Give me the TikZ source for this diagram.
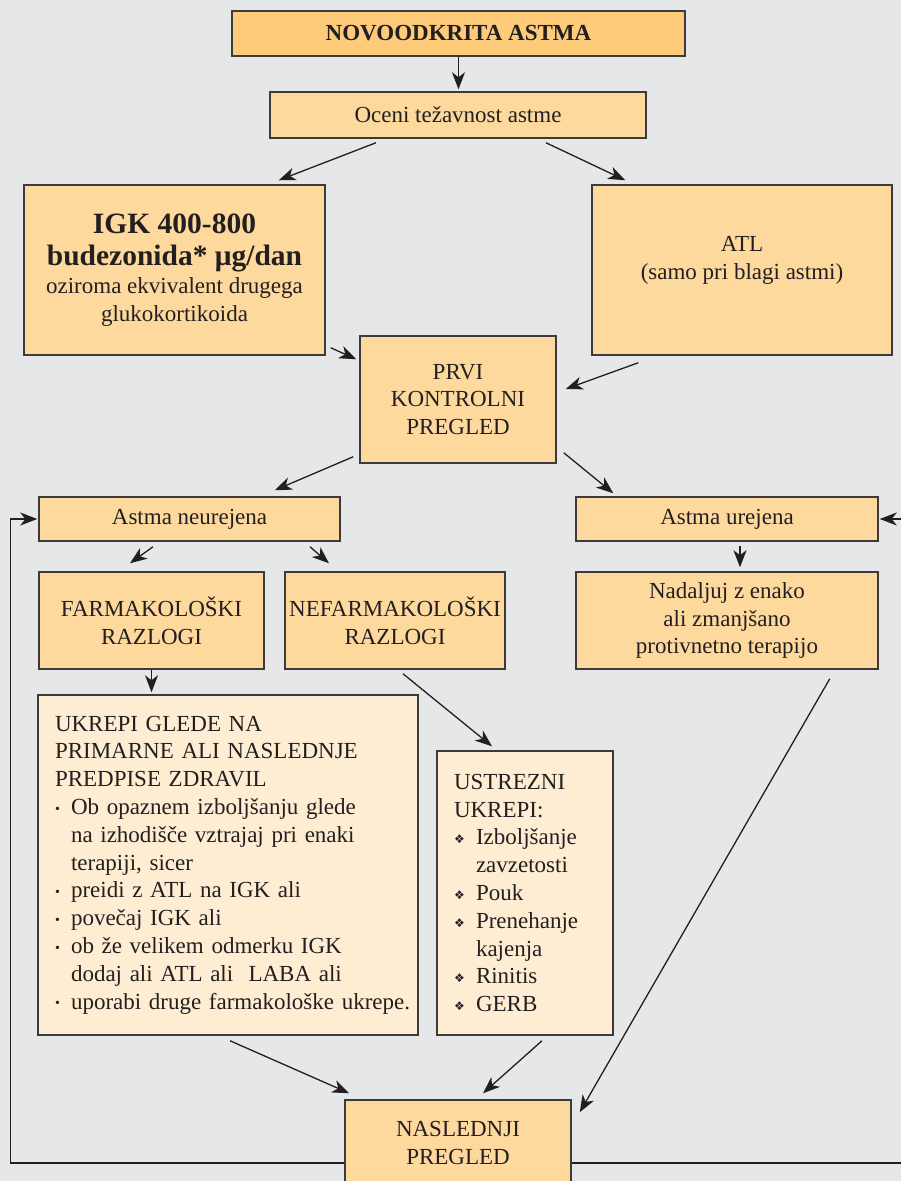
\documentclass[tikz,border=0pt]{standalone}
\usepackage{fontspec}
\setmainfont{Liberation Serif}
\newfontfamily\dejavu{DejaVu Sans}
\usetikzlibrary{arrows.meta,positioning}

\definecolor{bggray}{HTML}{E6E7E8}
\definecolor{darkfill}{HTML}{FDCB7A}
\definecolor{midfill}{HTML}{FED99D}
\definecolor{lightfill}{HTML}{FEEDD2}
\definecolor{edgegray}{HTML}{3C3A3B}
\definecolor{inkgray}{HTML}{231F20}

\newcommand{\bitem}{\makebox[16pt][l]{\fontsize{14}{14}\selectfont\raisebox{1.5pt}{•}}}
\newcommand{\bcont}{\hspace*{16pt}}
\newcommand{\ditem}{\makebox[22pt][l]{\dejavu\fontsize{12}{12}\selectfont\raisebox{1pt}{❖}}}
\newcommand{\dcont}{\hspace*{22pt}}
\newcommand{\bigbold}{\fontsize{29.5}{34}\selectfont\bfseries}

\tikzset{
  box/.style={draw=edgegray, line width=1.5pt, fill=midfill, text=inkgray,
    align=center, inner sep=0pt, font=\fontsize{23}{27.8}\selectfont},
  topbox/.style={box, fill=darkfill, font=\fontsize{23}{27}\selectfont\bfseries},
  notebox/.style={box, fill=lightfill, align=left},
  arr/.style={-{Stealth[length=17pt,width=13pt,inset=5pt]}, draw=inkgray, line width=1.3pt},
}

\begin{document}
\begin{tikzpicture}[x=1pt, y=-1pt]
        % Setup the page
        \useasboundingbox (0,0) rectangle (901,1181);
        \clip (0,0) rectangle (901,1181);
        \fill[bggray] (0,0) rectangle (901,1181);

        % Top of the chart
        \node[topbox, minimum width=453, minimum height=45] (novo) at (458.5,33.5) {NOVOODKRITA ASTMA};
        \node[box, minimum width=376, minimum height=46] (oceni) at (458,115) {Oceni težavnost astme};

        % First choice of therapy
        \node[box, minimum width=301, minimum height=170] (igk) at (174.5,270)
            {\bigbold IGK 400-800\\[5pt] \bigbold budezonida* μg/dan\\ oziroma ekvivalent drugega\\ glukokortikoida};
        \node[box, minimum width=300, minimum height=170] (atl) at (742,270)
            {ATL\\ (samo pri blagi astmi)\\[-4pt] \mbox{}};
        \node[box, minimum width=196, minimum height=127] (prvi) at (458,399.5) {PRVI\\ KONTROLNI\\ PREGLED};

        % Control of asthma
        \node[box, minimum width=301, minimum height=44] (neu) at (189.5,519) {Astma neurejena};
        \node[box, minimum width=302, minimum height=44] (ure) at (727,519) {Astma urejena};
        \node[box, minimum width=225, minimum height=97] (farm) at (151.5,620.5) {FARMAKOLOŠKI\\ RAZLOGI};
        \node[box, minimum width=220, minimum height=97] (nefarm) at (395,620.5) {NEFARMAKOLOŠKI\\ RAZLOGI};
        \node[box, minimum width=302, minimum height=97] (nada) at (727,620.5) {Nadaljuj z enako\\ ali zmanjšano\\ protivnetno terapijo};

        % Measures
        \node[notebox, minimum width=380, minimum height=340, text width=346, inner xsep=17pt] (ukrepi) at (228,865)
            {UKREPI GLEDE NA\\ PRIMARNE ALI NASLEDNJE\\ PREDPISE ZDRAVIL\\
             \bitem Ob opaznem izboljšanju glede\\
             \bcont na izhodišče vztrajaj pri enaki\\
             \bcont terapiji, sicer\\
             \bitem preidi z ATL na IGK ali\\
             \bitem povečaj IGK ali\\
             \bitem ob že velikem odmerku IGK\\
             \bcont dodaj ali ATL ali\ \ LABA ali\\
             \mbox{\bitem uporabi druge farmakološke ukrepe.}};
        \node[notebox, minimum width=176, minimum height=284, text width=142, inner xsep=17pt] (ustrezni) at (525,893)
            {USTREZNI\\ UKREPI:\\
             \ditem Izboljšanje\\
             \dcont zavzetosti\\
             \ditem Pouk\\
             \ditem Prenehanje\\
             \dcont kajenja\\
             \ditem Rinitis\\
             \ditem GERB};

        % Next visit
        \node[box, minimum width=226, minimum height=86] (nasl) at (458,1143) {NASLEDNJI\\ PREGLED};

        % Draw the connectors
        \draw[arr, shorten >=2pt] (novo.south) -- (novo.south |- oceni.north);
        \draw[arr] ([xshift=-82pt,yshift=-4pt]oceni.south) -- ([xshift=-47pt,yshift=4pt]igk.north east);
        \draw[arr] ([xshift=88pt,yshift=-4pt]oceni.south) -- ([xshift=34pt,yshift=4pt]atl.north west);
        \draw[arr] ([xshift=5pt,yshift=8pt]igk.south east) -- ([xshift=-3pt,yshift=-24pt]prvi.north west);
        \draw[arr] ([xshift=47pt,yshift=-7pt]atl.south west) -- ([xshift=9pt,yshift=10.5pt]prvi.east);
        \draw[arr] ([xshift=-6pt,yshift=7pt]prvi.south west) -- ([xshift=-66pt,yshift=6pt]neu.north east);
        \draw[arr] ([xshift=7pt,yshift=11pt]prvi.south east) -- ([xshift=38pt,yshift=3pt]ure.north west);
        \draw[arr] ([xshift=-36.5pt,yshift=-5pt]neu.south) -- ([xshift=-21.5pt,yshift=8pt]farm.north);
        \draw[arr] ([xshift=120.5pt,yshift=-5pt]neu.south) -- ([xshift=-66pt,yshift=8pt]nefarm.north);
        \draw[arr] ([xshift=13pt,yshift=-4pt]ure.south) -- ([xshift=13pt,yshift=4pt]nada.north);
        \draw[arr, shorten >=2pt] (farm.south) -- (farm.south |- ukrepi.north);
        \draw[arr] ([xshift=8pt,yshift=-4pt]nefarm.south) -- ([xshift=-33pt,yshift=4pt]ustrezni.north);
        \draw[arr] ([xshift=2pt,yshift=-5pt]ukrepi.south) -- ([xshift=5pt,yshift=6pt]nasl.north west);
        \draw[arr] ([xshift=17pt,yshift=-5pt]ustrezni.south) -- ([xshift=25pt,yshift=6pt]nasl.north);
        \draw[arr] ([xshift=-49pt,yshift=-9pt]nada.south east) -- ([xshift=8pt,yshift=-13pt]nasl.north east);

        % Loops back from the next visit
        \draw[arr, shorten >=1pt] ([yshift=-20pt]nasl.west) -- ++(-334,0) |- (neu.west);
        \draw[arr, shorten >=1pt] ([yshift=-20pt]nasl.east) -- ++(335,0) |- (ure.east);
    \end{tikzpicture}
\end{document}
